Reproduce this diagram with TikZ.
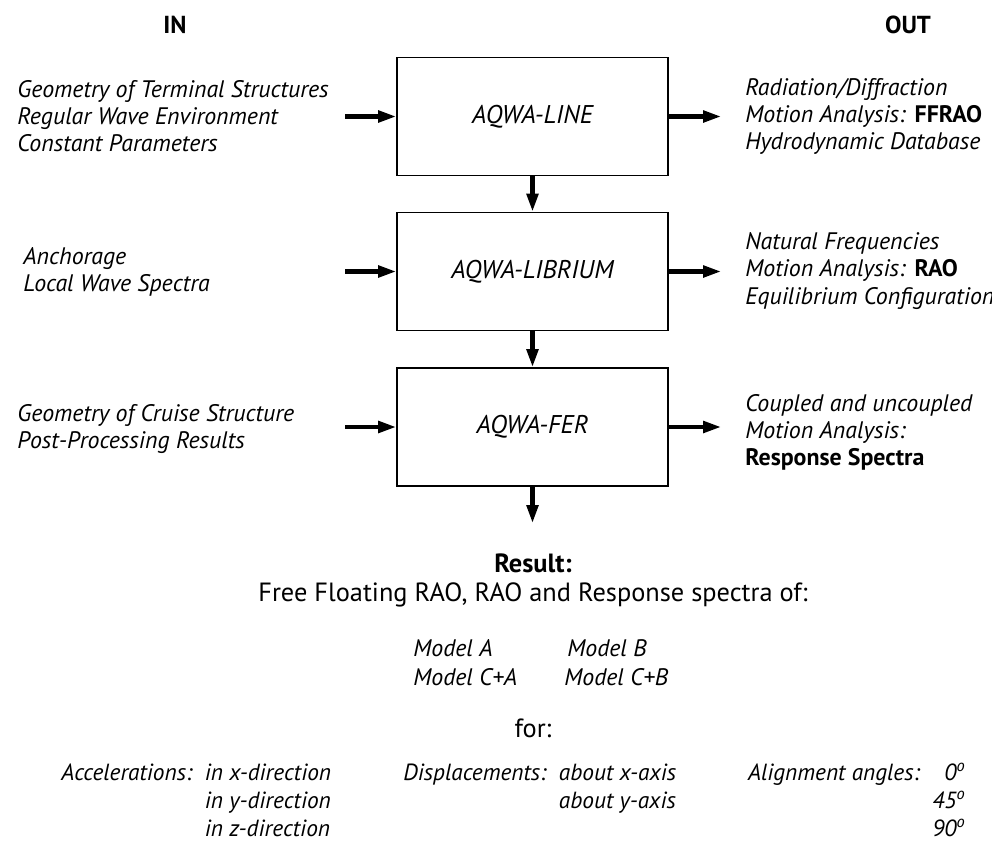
\documentclass[tikz,border=0pt]{standalone}
\usepackage{fontspec}
\setmainfont{PT Sans}
\usetikzlibrary{arrows.meta}

\begin{document}
\begin{tikzpicture}[x=0.02cm,y=-0.02cm,
    every node/.style={font=\fontsize{15}{18}\selectfont},
    stage/.style={draw,line width=1.1pt,minimum width=5.42cm,minimum height=2.36cm,
        font=\fontsize{14.6}{17}\selectfont\itshape},
    intext/.style={align=left,anchor=west,inner sep=0pt,
        font=\fontsize{13.6}{15.4}\selectfont\itshape},
    head/.style={font=\fontsize{14}{16}\selectfont\bfseries},
    flow/.style={line width=2.3pt,-{Triangle[length=0.36cm,width=0.23cm]}},
    table/.style={inner sep=0pt,font=\fontsize{13.3}{15.9}\selectfont\itshape}]
    \useasboundingbox (0,0) rectangle (992,842);

    % column heads
    \node[head] (in) at (175,25) {IN};
    \node[head] (out) at (908,25) {OUT};

    % the three programs
    \node[stage] (line) at (532.5,116.5) {AQWA-LINE};
    \node[stage] (librium) at (532.5,271.5) {AQWA-LIBRIUM};
    \node[stage] (fer) at (532.5,427) {AQWA-FER};

    % inputs
    \node[intext] (inline) at (17,116) {Geometry of Terminal Structures\\
        Regular Wave Environment\\Constant Parameters};
    \node[intext] (inlibrium) at (23,271.5) {Anchorage\\Local Wave Spectra};
    \node[intext] (infer) at (17,429) {Geometry of Cruise Structure\\
        Post-Processing Results};

    % outputs
    \node[intext] (outline) at (745,116) {Radiation/Diffraction\\
        Motion Analysis: \textup{\bfseries FFRAO}\\Hydrodynamic Database};
    \node[intext] (outlibrium) at (745,271) {Natural Frequencies\\
        Motion Analysis: \textup{\bfseries RAO}\\Equilibrium Configuration};
    \node[intext] (outfer) at (745,432) {Coupled and uncoupled\\
        Motion Analysis:\\\textup{\bfseries Response Spectra}};

    \coordinate (a1) at (345,116.5);
    \coordinate (a2) at (345,271.5);
    \coordinate (a3) at (345,427);
    \coordinate (b1) at (721,116.5);
    \coordinate (b2) at (721,271.5);
    \coordinate (b3) at (721,427);
    \coordinate (end) at (532.5,523);

    \draw[flow] (a1) -- (line);
    \draw[flow] (a2) -- (librium);
    \draw[flow] (a3) -- (fer);
    \draw[flow] (line) -- (b1);
    \draw[flow] (librium) -- (b2);
    \draw[flow] (fer) -- (b3);
    \draw[flow] (line) -- (librium);
    \draw[flow] (librium) -- (fer);
    \draw[flow] (fer) -- (end);

    % result
    \node[font=\fontsize{15}{18}\selectfont\bfseries] (result) at (533,563) {Result:};
    \node (spectra) at (533,595) {Free Floating RAO, RAO and Response spectra of:};
    \node[intext] (ma) at (413,648) {Model A};
    \node[intext] (mb) at (567,648) {Model B};
    \node[intext] (mca) at (413,677) {Model C+A};
    \node[intext] (mcb) at (564,677) {Model C+B};
    \node (for) at (533,728) {for:};

    \node[table,anchor=north west] (acc) at (61,761) {%
        \begin{tabular}{@{}l@{\ \ }l@{}}
            Accelerations: & in x-direction\\
            & in y-direction\\
            & in z-direction
        \end{tabular}};
    \node[table,anchor=north west] (disp) at (403,761) {%
        \begin{tabular}{@{}l@{\ \ }l@{}}
            Displacements: & about x-axis\\
            & about y-axis
        \end{tabular}};
    \node[table,anchor=north east] (align) at (966,761) {%
        \begin{tabular}{@{}l@{\ \ }r@{}}
            Alignment angles: & 0\textsuperscript{o}\\
            & 45\textsuperscript{o}\\
            & 90\textsuperscript{o}
        \end{tabular}};
\end{tikzpicture}
\end{document}
